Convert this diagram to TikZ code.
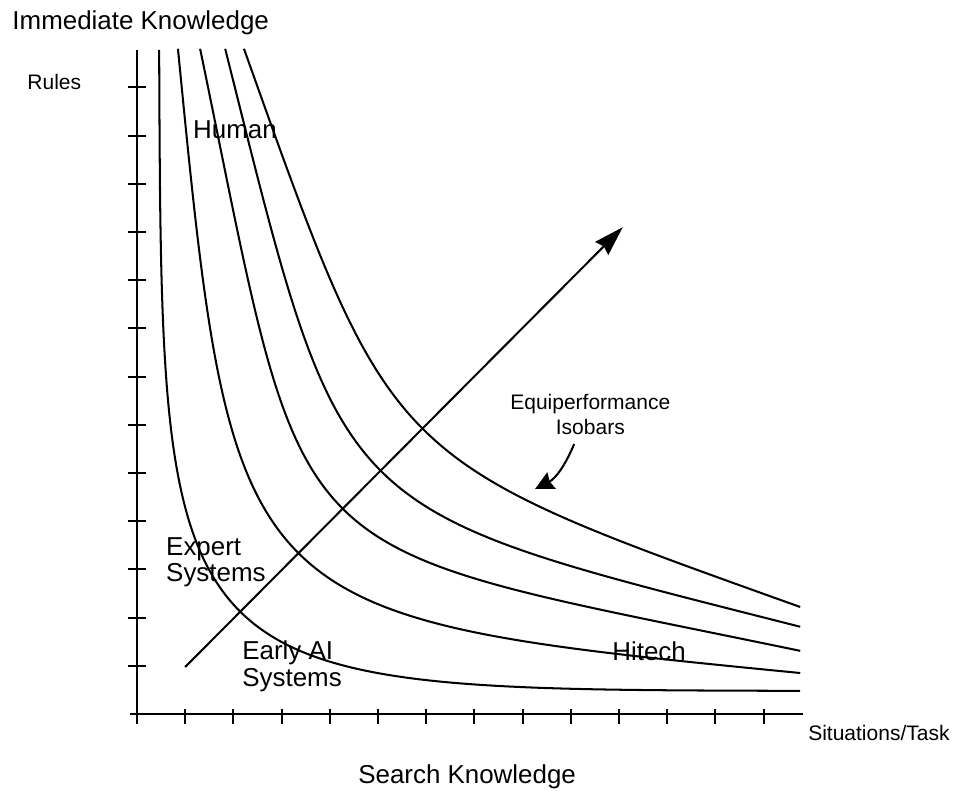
\documentclass[tikz,border=0pt]{standalone}
\usepackage{fontspec}
\setmainfont{Liberation Sans}
\usetikzlibrary{arrows.meta}

\begin{document}
\begin{tikzpicture}
  [
    >={Stealth[length=0.62cm,width=0.38cm,inset=0.06cm]},
    axis/.style={line width=1.2pt},
    isobar/.style={line width=1.2pt},
    big label/.style={inner sep=0pt,align=left,font=\fontsize{15.3}{15.6}\selectfont},
    small label/.style={inner sep=0pt,align=center,font=\fontsize{12.4}{15}\selectfont},
  ]
  \useasboundingbox (-2.842,-1.577) rectangle (16.971,14.813);
  % axes and ticks
  \draw [axis] (0,-0.21) -- (0,13.78);
  \draw [axis] (-0.15,0) -- (13.82,0);
  \foreach \k in {1,...,13}
  {
    \draw [axis] (-0.19,\k) -- (0.19,\k);
    \draw [axis] (\k,0.1) -- (\k,-0.2);
  }
  % equiperformance isobars
  \draw [isobar] (0.46,13.78) .. controls (0.52,0.42) and (0.42,0.52) .. (13.76,0.48);
  \draw [isobar] (0.85,13.8) .. controls (2.0,2.04) and (2.04,2.0) .. (13.76,0.85);
  \draw [isobar] (1.31,13.8) .. controls (3.6,2.74) and (2.74,3.6) .. (13.76,1.31);
  \draw [isobar] (1.83,13.8) .. controls (4.3,3.97) and (3.97,4.3) .. (13.76,1.81);
  \draw [isobar] (2.22,13.8) .. controls (5.3,5.16) and (5.16,5.3) .. (13.76,2.22);
  % labels (base of a two-line label is its last line)
  \node (immediate) [big label,anchor=base west] at (-2.59,14.21) {Immediate Knowledge};
  \node (rules) [small label,anchor=base west] at (-2.28,12.95) {Rules};
  \node (human) [big label,anchor=base west] at (1.16,11.93) {Human};
  \node (expert) [big label,anchor=base west] at (0.60,2.74) {Expert\\Systems};
  \node (early ai) [big label,anchor=base west] at (2.18,0.58) {Early AI\\Systems};
  \node (hitech) [big label,anchor=base west] at (9.855,1.10) {Hitech};
  \node (equi) [small label,anchor=base] at (9.405,5.79) {Equiperformance\\Isobars};
  \node (situations) [small label,anchor=base west] at (13.92,-0.56) {Situations/Task};
  \node (search) [big label,anchor=base west] at (4.585,-1.452) {Search Knowledge};
  % arrows
  \coordinate (arrow start) at (1.0,0.975);
  \coordinate (arrow end) at (10.08,10.10);
  \draw [->,line width=1.2pt] (arrow start) -- (arrow end);
  \coordinate (isobar tail) at (9.07,5.60);
  \coordinate (isobar head) at (8.26,4.67);
  \draw [-{Stealth[length=0.38cm,width=0.38cm,inset=0.04cm]},line width=1.2pt]
    (isobar tail) to [out=247,in=27] (isobar head);
\end{tikzpicture}
\end{document}
